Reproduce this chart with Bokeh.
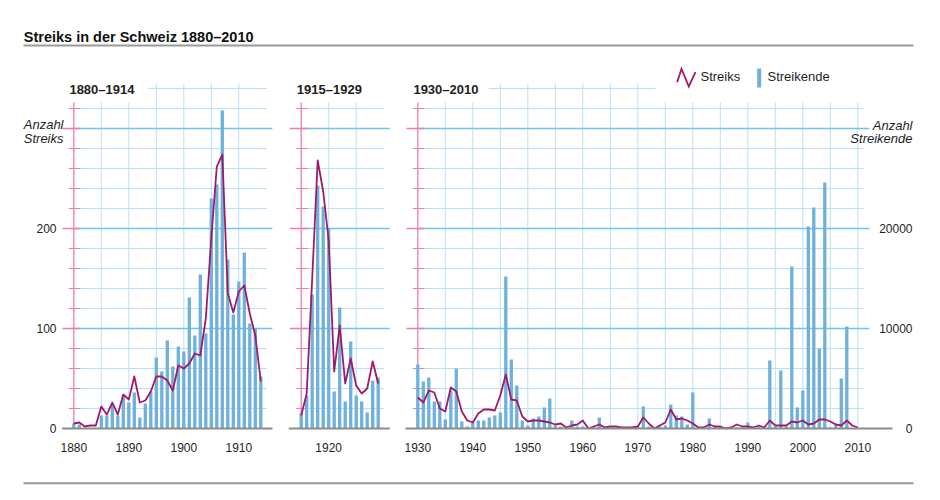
from bokeh.plotting import figure
from bokeh.models import Range1d
from bokeh.layouts import column, row
from bokeh.embed import file_html
from bokeh.resources import INLINE
from bokeh.core.properties import value

# ---------------- data ----------------
chart_title = "Streiks in der Schweiz 1880–2010"
panel_titles = ["1880–1914", "1915–1929", "1930–2010"]
series_names = ["Streiks", "Streikende"]
left_axis_title = ["Anzahl", "Streiks"]
right_axis_title = ["Anzahl", "Streikende"]

years_1880 = list(range(1880, 1915))
streiks_1880 = [5, 6, 2, 3, 3, 22, 14, 26, 14, 34,
                29, 52, 26, 28, 37, 52, 52, 48, 38, 63,
                60, 65, 75, 73, 110, 190, 262, 274, 135, 116,
                137, 143, 115, 93, 47]
streikende_1880 = [500, 400, 0, 0, 0, 1300, 1300, 2400, 1300, 3300,
                   2600, 3600, 1100, 2500, 3700, 7100, 5700, 8800, 6200, 8200,
                   7700, 13100, 9300, 15400, 9500, 23000, 24400, 31800, 16900, 11400,
                   14700, 17600, 10500, 10000, 5200]

years_1915 = list(range(1915, 1930))
streiks_1915 = [13, 35, 150, 268, 237, 188, 57, 103, 45, 70, 43, 35, 40, 67, 45]
streikende_1915 = [1500, 3300, 13400, 24300, 22200, 20000, 3700, 12100, 2700, 8700,
                   3300, 2700, 1600, 4800, 5100]

years_1930 = list(range(1930, 2011))
streiks_1930 = [31, 26, 38, 36, 20, 17, 41, 37, 17, 8,
                6, 15, 19, 19, 18, 33, 54, 29, 28, 12,
                7, 8, 8, 7, 6, 4, 5, 1, 3, 4,
                8, 0, 2, 4, 1, 2, 2, 1, 1, 1,
                2, 11, 5, 0, 3, 6, 19, 9, 10, 8,
                5, 1, 1, 4, 2, 2, 0, 1, 4, 2,
                2, 1, 3, 1, 8, 3, 3, 3, 7, 6,
                8, 4, 5, 9, 9, 7, 4, 3, 8, 3,
                1]
streikende_1930 = [6400, 4700, 5100, 2700, 2700, 900, 3800, 6000, 700, 200,
                   600, 800, 800, 1100, 1300, 1600, 15200, 6900, 4300, 800,
                   300, 1000, 1200, 2100, 3000, 300, 200, 100, 800, 200,
                   200, 0, 100, 1100, 200, 100, 100, 100, 100, 100,
                   200, 2200, 200, 100, 200, 300, 2400, 1300, 1200, 400,
                   3600, 100, 100, 1000, 200, 200, 100, 0, 100, 100,
                   600, 100, 200, 100, 6800, 200, 5800, 200, 16200, 2100,
                   3800, 20200, 22100, 8000, 24600, 100, 400, 5000, 10200, 0,
                   0]

x_ticks_1880 = [1880, 1890, 1900, 1910]
x_ticks_1915 = [1920]
x_ticks_1930 = [1930, 1940, 1950, 1960, 1970, 1980, 1990, 2000, 2010]
y_ticks_streiks = [0, 100, 200]
y_labels_streiks = ["0", "100", "200"]
y_ticks_streikende = [0, 10000, 20000]
y_labels_streikende = ["0", "10000", "20000"]

# ---------------- style / layout ----------------
FONT = "Liberation Sans"
BAR = "#6fb0dd"
LINE = "#a01a6a"
PINK = "#f07cb0"
GRID = "#b8e1f5"
GRID_MAJOR = "#6fc3ec"
BASE = "#8c8c8c"
TEXT = "#1e1e1e"
RULE = "#9a9a9a"

PX_YR = 5.5
Y_TOP = 368
PANEL_H = 410
B_BOTTOM = 42
GRID_TOP = 340
OPEN_TOP = 345
COVERED_TOP = 326


def style_fig(p):
    p.outline_line_color = None
    p.background_fill_color = "white"
    p.border_fill_color = "white"
    p.grid.visible = False


def make_panel(years, streiks, streikende, xticks, title, fig_x, width, pink_sx,
               base_start_sx, base_end_sx, open_spans):
    first, last = years[0], years[-1]

    def yr(sx):
        return first + (sx - pink_sx) / PX_YR

    xs = yr(fig_x)
    xe = xs + width / PX_YR
    p = figure(width=width, height=PANEL_H, x_range=Range1d(xs, xe),
               y_range=Range1d(-B_BOTTOM, Y_TOP), toolbar_location=None,
               output_backend="svg", title=None,
               x_axis_location=None, y_axis_location=None, min_border=0)
    p.extra_y_ranges = {"streikende": Range1d(-B_BOTTOM * 100, Y_TOP * 100)}
    style_fig(p)

    grid_end = last + 1.1
    major_end = grid_end + 1.0
    minor_y = [v for v in range(20, GRID_TOP, 20) if v % 100]
    major_y = [100, 200, 300]
    n = len(minor_y)
    p.segment(x0=[first] * n, y0=minor_y, x1=[grid_end] * n, y1=minor_y,
              line_color=GRID, line_width=1)
    for a, b in open_spans:
        p.segment(x0=[a], y0=[GRID_TOP], x1=[min(b, grid_end)], y1=[GRID_TOP],
                  line_color=GRID, line_width=1)
    vx = list(range(first + 5, last + 1, 5))
    vtop = [OPEN_TOP if any(a <= x <= b for a, b in open_spans) else COVERED_TOP
            for x in vx]
    p.segment(x0=vx, y0=[0] * len(vx), x1=vx, y1=vtop, line_color=GRID, line_width=1)
    m = len(major_y)
    p.segment(x0=[first] * m, y0=major_y, x1=[major_end] * m, y1=major_y,
              line_color=GRID_MAJOR, line_width=1.3)

    # pink axis with ticks
    tick_in = 6.7 / PX_YR
    p.segment(x0=[first], y0=[0], x1=[first], y1=[COVERED_TOP],
              line_color=PINK, line_width=1.3)
    p.segment(x0=[first - 5 / PX_YR] * n, y0=minor_y, x1=[first + tick_in] * n,
              y1=minor_y, line_color=PINK, line_width=1.2)
    p.segment(x0=[first - 11.3 / PX_YR] * m, y0=major_y, x1=[first + tick_in] * m,
              y1=major_y, line_color=PINK, line_width=1.3)

    # data
    p.vbar(x=years, top=streikende, bottom=0, width=0.6, y_range_name="streikende",
           fill_color=BAR, line_color=None)
    p.line(x=years, y=streiks, line_color=LINE, line_width=1.8, line_join="round")

    # baseline (x axis line)
    p.segment(x0=[yr(base_start_sx)], y0=[0], x1=[yr(base_end_sx)], y1=[0],
              line_color=BASE, line_width=2)

    # x tick labels
    p.text(x=xticks, y=[-19] * len(xticks), text=[str(t) for t in xticks],
           text_font=value(FONT), text_font_size="12px", text_color=TEXT,
           text_align="center", text_baseline="middle")

    # panel title
    p.text(x=[first - 0.8], y=[338.8], text=[title], text_font=value(FONT),
           text_font_style="bold", text_font_size="13px", text_color=TEXT,
           text_align="left", text_baseline="middle")
    return p, yr


p1, yr1 = make_panel(years_1880, streiks_1880, streikende_1880, x_ticks_1880,
                     panel_titles[0], 0, 280, 73.3, 61.7, 272, [(1893.6, 9999)])
p2, yr2 = make_panel(years_1915, streiks_1915, streikende_1915, x_ticks_1915,
                     panel_titles[1], 280, 117, 300.7, 288.3, 389.3, [])
p3, yr3 = make_panel(years_1930, streiks_1930, streikende_1930, x_ticks_1930,
                     panel_titles[2], 397, 535, 417.3, 405, 892, [(1942.9, 1973.2)])

# left axis labels and title (panel 1)
p1.text(x=[yr1(56)] * len(y_ticks_streiks), y=y_ticks_streiks, text=y_labels_streiks,
        text_font=value(FONT), text_font_size="12px", text_color=TEXT,
        text_align="right", text_baseline="middle")
p1.text(x=[yr1(63)] * 2, y=[303.8, 289.8], text=left_axis_title,
        text_font=value(FONT), text_font_style="italic", text_font_size="13px",
        text_color=TEXT, text_align="right", text_baseline="middle")

# right axis labels and title (panel 3)
p3.text(x=[yr3(912)] * len(y_ticks_streikende), y=y_ticks_streikende,
        text=y_labels_streikende, y_range_name="streikende",
        text_font=value(FONT), text_font_size="12px", text_color=TEXT,
        text_align="right", text_baseline="middle")
p3.text(x=[yr3(912)] * 2, y=[303.3, 290.0], text=right_axis_title,
        text_font=value(FONT), text_font_style="italic", text_font_size="13px",
        text_color=TEXT, text_align="right", text_baseline="middle")

# legend (panel 3)
zig_sx = [676.7, 681.0, 688.3, 695.0]
zig_y = [346.3, 359.7, 342.0, 356.3]
p3.line(x=[yr3(s) for s in zig_sx], y=zig_y, line_color=LINE,
        line_width=1.8, line_join="miter")
p3.text(x=[yr3(700)], y=[352], text=[series_names[0]], text_font=value(FONT),
        text_font_size="13px", text_color=TEXT, text_align="left", text_baseline="middle")
p3.quad(left=[yr3(756.7)], right=[yr3(760.7)], bottom=[341], top=[360],
        fill_color=BAR, line_color=None)
p3.text(x=[yr3(767)], y=[352], text=[series_names[1]], text_font=value(FONT),
        text_font_size="13px", text_color=TEXT, text_align="left", text_baseline="middle")

# header & footer
hdr = figure(width=932, height=60, x_range=Range1d(0, 932), y_range=Range1d(0, 60),
             toolbar_location=None, output_backend="svg", title=None,
             x_axis_location=None, y_axis_location=None, min_border=0)
style_fig(hdr)
hdr.text(x=[23.3], y=[23.3], text=[chart_title], text_font=value(FONT),
         text_font_style="bold", text_font_size="14.5px", text_color="#111111",
         text_align="left", text_baseline="middle")
hdr.segment(x0=[23], y0=[15], x1=[913], y1=[15], line_color=RULE, line_width=2)

ftr = figure(width=932, height=22, x_range=Range1d(0, 932), y_range=Range1d(0, 22),
             toolbar_location=None, output_backend="svg", title=None,
             x_axis_location=None, y_axis_location=None, min_border=0)
style_fig(ftr)
ftr.segment(x0=[23], y0=[9.3], x1=[913], y1=[9.3], line_color=RULE, line_width=2)

layout = column(hdr, row(p1, p2, p3), ftr)
open("out.html", "w").write(file_html(layout, INLINE))
